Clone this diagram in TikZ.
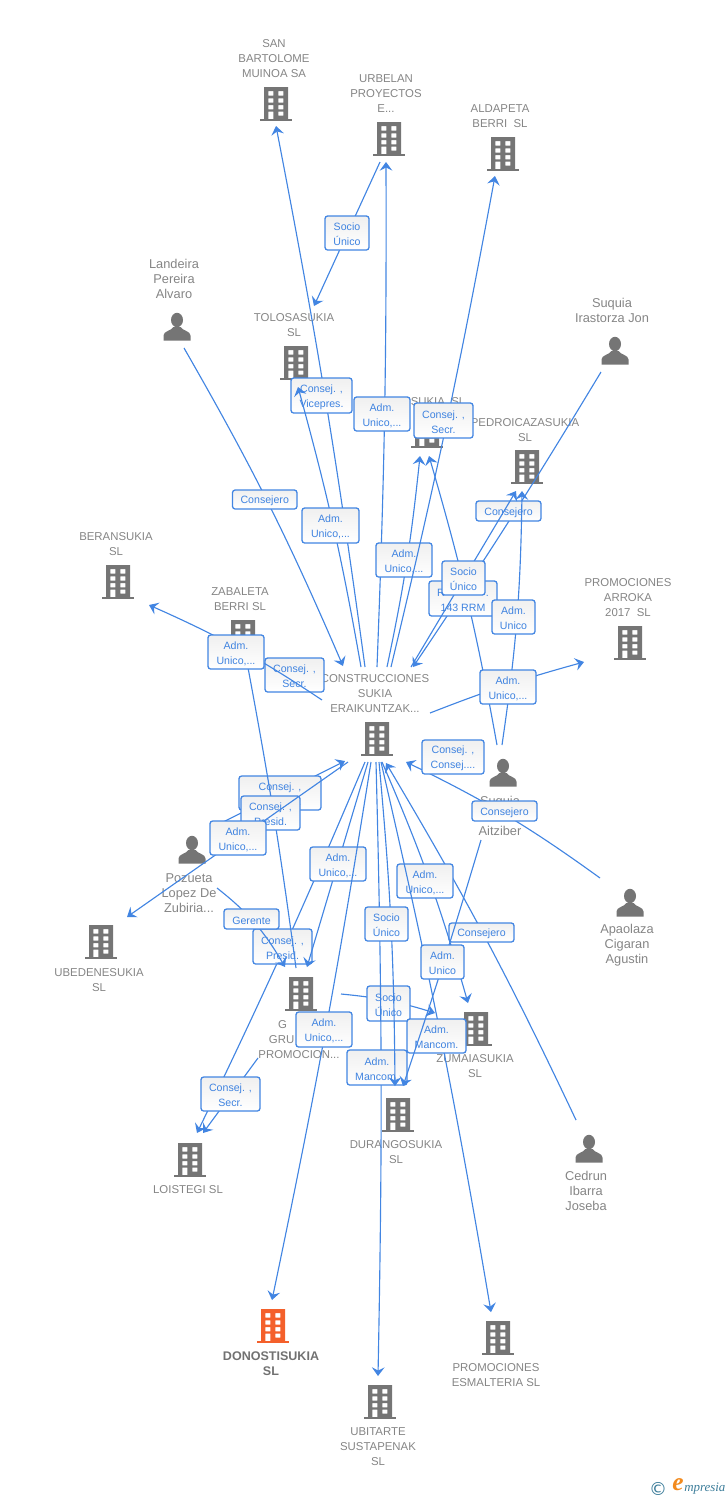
\documentclass[tikz,border=0pt]{standalone}
\usepackage{fontspec}
\setmainfont{Liberation Sans}
\newfontfamily\logoserif{Liberation Serif}
\newfontfamily\logosym{DejaVu Sans}
\usetikzlibrary{arrows.meta,bending}
\definecolor{linkblue}{HTML}{4285E2}
\definecolor{tagtext}{HTML}{3F83E0}
\definecolor{labelgray}{HTML}{858585}
\definecolor{icongray}{HTML}{757575}
\definecolor{iconorange}{HTML}{F4602B}
\definecolor{logoteal}{HTML}{3B7C99}
\definecolor{logoorange}{HTML}{F28A1E}
\tikzset{
  x=0.75pt,y=-0.75pt,
  link/.style={draw=linkblue,line width=0.85pt,-{Stealth[length=6.5pt,width=9.5pt,inset=2.4pt]}},
  tag/.style={draw=linkblue,line width=0.95pt,rounded corners=2pt,top color=black!6,bottom color=white,
    text=tagtext,align=center,inner sep=0pt,font=\fontsize{7.95pt}{11.25pt}\selectfont},
  company/.style={text=labelgray,align=center,inner sep=0pt,yshift=-0.75pt,font=\fontsize{8.55pt}{11.25pt}\selectfont},
  companybold/.style={text=labelgray!85!black,align=center,inner sep=0pt,yshift=-0.75pt,font=\fontsize{9.4pt}{11.25pt}\selectfont\bfseries},
  human/.style={text=labelgray,align=center,inner sep=0pt,font=\fontsize{9.6pt}{11.25pt}\selectfont},
  pics/bld/.style={code={
    \fill[#1,even odd rule] (-12,-17) rectangle (12,15)
      (-7.7,-13) rectangle (-2.7,-8.5) (2.3,-13) rectangle (7.3,-8.5)
      (-7.7,-5.7) rectangle (-2.7,-1.5) (2.3,-5.7) rectangle (7.3,-1.5)
      (-7.7,1) rectangle (-2.7,5.3) (2.3,1) rectangle (7.3,5.3)
      (-7.7,7.5) rectangle (-2.7,15) (2.3,7.5) rectangle (7.3,11.5);
    \fill[#1] (-16,15) rectangle (16,17.2);
  }},
  pics/bld/.default=icongray,
  pics/man/.style={code={
    \fill[icongray] (0,-7) ellipse [x radius=6,y radius=7.2];
    \fill[icongray] (-13.5,13.5) -- (-13.5,8.5) .. controls (-13.5,4) and (-6,4) .. (-3.5,0)
      -- (3.5,0) .. controls (6,4) and (13.5,4) .. (13.5,8.5) -- (13.5,13.5) -- cycle;
  }},
}
\newcommand{\tagbox}[6]{%
  \pgfmathsetmacro{\tagw}{(#3-#2)*0.75}\pgfmathsetmacro{\tagh}{(#5-#4)*0.75}%
  \node[tag,minimum width=\tagw pt,minimum height=\tagh pt] (#1) at ({(#2+#3)/2},{(#4+#5)/2}) {\rule{0pt}{8pt}#6};}
\begin{document}
\begin{tikzpicture}
\useasboundingbox (0,0) rectangle (728,1500);
% ---- icons
\pic (isanb) at (276,104) {bld};
\pic (iurb) at (389,139) {bld};
\pic (iald) at (503,154) {bld};
\pic (itol) at (296,363) {bld};
\pic (isuk) at (427,431) {bld};
\pic (iped) at (527,467) {bld};
\pic (iarr) at (630,643) {bld};
\pic (iber) at (118,582) {bld};
\pic (izab) at (243,637) {bld};
\pic (icon) at (377,739) {bld};
\pic (iube) at (101,942) {bld};
\pic (igru) at (301,994) {bld};
\pic (iloi) at (190,1160) {bld};
\pic (idur) at (398,1115) {bld};
\pic (izum) at (476,1029) {bld};
\pic (idon) at (273,1326) {bld=iconorange};
\pic (iesm) at (498,1338) {bld};
\pic (iubi) at (380,1402) {bld};
\pic (ilan) at (177,327) {man};
\pic (ijon) at (615,351) {man};
\pic (iait) at (503,773) {man};
\pic (ipoz) at (192,850) {man};
\pic (iapa) at (630,903) {man};
\pic (iced) at (589,1149) {man};
% ---- texts
\node[company] (sanb) at (274,58) {SAN\\BARTOLOME\\MUINOA SA};
\node[company] (urb) at (386,93) {URBELAN\\PROYECTOS\\E...};
\node[company] (ald) at (500,115.5) {ALDAPETA\\BERRI\ \ SL};
\node[company] (tol) at (294,324.5) {TOLOSASUKIA\\SL};
\node[company] (suk) at (438,401) {SUKIA\ \ SL};
\node[company] (ped) at (525,429.5) {PEDROICAZASUKIA\\SL};
\node[company] (arr) at (628,597) {PROMOCIONES\\ARROKA\\2017\ \ SL};
\node[company] (ber) at (116,543.5) {BERANSUKIA\\SL};
\node[company] (zab) at (240,598.5) {ZABALETA\\BERRI SL};
\node[company] (con) at (375,693) {CONSTRUCCIONES\\SUKIA\\ERAIKUNTZAK...};
\node[company] (ube) at (99,979.5) {UBEDENESUKIA\\SL};
\node[company] (gru) at (299,1039) {G\phantom{RUPO}\\GRU\phantom{PO XX}\\PROMOCION...};
\node[company] (loi) at (188,1189) {LOISTEGI SL};
\node[company] (dur) at (396,1151.5) {DURANGOSUKIA\\SL};
\node[company] (zum) at (475,1065.5) {ZUMAIASUKIA\\SL};
\node[companybold] (don) at (271,1362.5) {DONOSTISUKIA\\SL};
\node[company] (esm) at (496,1374.5) {PROMOCIONES\\ESMALTERIA SL};
\node[company] (ubi) at (378,1446) {UBITARTE\\SUSTAPENAK\\SL};
\node[human] (lan) at (174,279) {Landeira\\Pereira\\Alvaro};
\node[human] (jon) at (612,310.5) {Suquia\\Irastorza Jon};
\node[human] (ait) at (500,816) {Suquia\\[11.25pt]Aitziber};
\node[human] (poz) at (189,893) {Pozueta\\Lopez De\\Zubiria...};
\node[human] (apa) at (627,945) {Apaolaza\\Cigaran\\Agustin};
\node[human] (ced) at (586,1191) {Cedrun\\Ibarra\\Joseba};
% ---- connector ends
\coordinate (cSanb) at (365,667);   \coordinate (eSanb) at (276,126);
\coordinate (cTol) at (361,667);    \coordinate (eTol) at (298,387);
\coordinate (cUrb) at (377,667);    \coordinate (eUrb) at (386,162);
\coordinate (cSuk) at (387,667);    \coordinate (eSuk) at (420,456);
\coordinate (cAld) at (391,667);    \coordinate (eAld) at (495,176);
\coordinate (sJon) at (601,372);    \coordinate (eJon) at (413,667);
\coordinate (sAitA) at (497,745);   \coordinate (eSukB) at (429,456);
\coordinate (cPed) at (411,667);    \coordinate (ePedA) at (516,491);
\coordinate (sAitB) at (502,745);   \coordinate (ePedB) at (522,491);
\coordinate (cArr) at (430,713);    \coordinate (eArr) at (584,662);
\coordinate (cBer) at (322,700);    \coordinate (eBer) at (149,605);
\coordinate (sLan) at (184,348);    \coordinate (eLan) at (343,666);
\coordinate (sUrb) at (380,162);    \coordinate (eUrbTol) at (314,306);
\coordinate (cLoi) at (365,762);    \coordinate (eLoiA) at (197,1133);
\coordinate (sPozA) at (217,888);   \coordinate (eGruA) at (285,967);
\coordinate (sPozB) at (215,826);   \coordinate (ePoz) at (345,761);
\coordinate (sGruZ) at (296,968);   \coordinate (eZab) at (246,657);
\coordinate (cUbe) at (348,762);    \coordinate (eUbe) at (127,917);
\coordinate (cGru) at (368,762);    \coordinate (eGruB) at (307,967);
\coordinate (sGruL) at (258,1058);  \coordinate (eLoiB) at (203,1133);
\coordinate (cDon) at (371,762);    \coordinate (eDon) at (272,1300);
\coordinate (sGruU) at (341,994);   \coordinate (eZumA) at (435,1013);
\coordinate (sCed) at (576,1120);   \coordinate (eCed) at (386,763);
\coordinate (cZum) at (382,762);    \coordinate (eZumB) at (468,1003);
\coordinate (cEsm) at (381,762);    \coordinate (eEsm) at (491,1312);
\coordinate (cUbi) at (376,762);    \coordinate (eUbi) at (378,1376);
\coordinate (cDur) at (379,762);    \coordinate (eDurA) at (395,1086);
\coordinate (sAitC) at (481,840);   \coordinate (eDurB) at (403,1086);
\coordinate (sApa) at (600,878);    \coordinate (eApa) at (406,762);
% ---- connectors and their labels, in paint order
\draw[link] (cSanb) to[bend right=1.6] (eSanb);
\tagbox{tSanb}{291}{352}{378}{413}{Consej. ,\\Vicepres.}
\draw[link] (cTol) to[bend right=2.7] (eTol);
\tagbox{tTol}{302}{359}{508}{543}{Adm.\\Unico,...}
\draw[link] (cUrb) to[bend right=1.2] (eUrb);
\tagbox{tUrb}{354}{410}{397}{431}{Adm.\\Unico,...}
\draw[link] (cSuk) to[bend right=3] (eSuk);
\tagbox{tSuk}{376}{432}{543}{577}{Adm.\\Unico,...}
\draw[link] (cAld) to[bend right=1.5] (eAld);
\tagbox{tAld}{414}{473}{403}{438}{Consej. ,\\Secr.}
\draw[link] (sJon) to[bend left=1.4] (eJon);
\tagbox{tJon}{476}{541}{501}{521}{Consejero}
\draw[link] (sAitA) to[bend right=3] (eSukB);
\tagbox{tAitA}{429}{497}{581}{616}{R\phantom{epr. Rep}.\\143 RRM}
\draw[link] (cPed) -- (ePedA);
\tagbox{tPed}{442}{485}{561}{595}{Socio\\Único}
\draw[link] (sAitB) to[bend right=3.8] (ePedB);
\tagbox{tAitB}{492}{535}{600}{634}{Adm.\\Unico}
\draw[link] (cArr) to[bend left=3] (eArr);
\tagbox{tArr}{480}{536}{670}{704}{Adm.\\Unico,...}
\tagbox{tZabS}{265}{324}{658}{692}{Consej. ,\\Secr.}
\draw[link] (cBer) to[bend right=4.9] (eBer);
\draw[link] (sLan) to[bend left=3.3] (eLan);
\tagbox{tLan}{232.5}{297}{490}{509}{Consejero}
\draw[link] (sUrb) -- (eUrbTol);
\tagbox{tUT}{325}{369}{216}{250}{Socio\\Único}
\draw[link] (cLoi) to[bend left=1.4] (eLoiA);
\tagbox{tLoi}{253}{312}{929}{964}{Consej. ,\\Presid.}
\draw[link] (sPozA) to[bend left=11] (eGruA);
\tagbox{tPozA}{224}{279}{909}{929}{Gerente}
\draw[link] (sPozB) -- (ePoz);
\tagbox{tPozB}{239}{321}{776}{810}{Consej. ,\\\phantom{Vicese}cr.}
\draw[link] (sGruZ) to[bend right=1.5] (eZab);
\tagbox{tZab}{241}{300}{796}{830}{Consej. ,\\Presid.}
\tagbox{tBer}{208}{264}{635}{669}{Adm.\\Unico,...}
\draw[link] (cUbe) -- (eUbe);
\tagbox{tUbe}{210}{266}{821}{855}{Adm.\\Unico,...}
\draw[link] (cGru) -- (eGruB);
\tagbox{tGru}{310}{366}{847}{881}{Adm.\\Unico,...}
\draw[link] (sGruL) -- (eLoiB);
\tagbox{tGruL}{201}{260}{1077}{1111}{Consej. ,\\Secr.}
\draw[link] (cDon) to[bend left=1.4] (eDon);
\tagbox{tDon}{296}{352}{1012}{1047}{Adm.\\Unico,...}
\draw[link] (sGruU) to[bend left=6] (eZumA);
\tagbox{tGruU}{367}{410}{986}{1021}{Socio\\Único}
\draw[link] (sCed) to[bend right=2.7] (eCed);
\tagbox{tCed}{449}{514}{923}{942}{Consejero}
\draw[link] (cZum) to[bend left=3.8] (eZumB);
\tagbox{tZum}{397}{453}{864}{898}{Adm.\\Unico,...}
\draw[link] (cEsm) to[bend left=1.7] (eEsm);
\tagbox{tEsm}{407}{466}{1019}{1053}{Adm.\\Mancom.}
\draw[link] (cUbi) to[bend left=1.3] (eUbi);
\tagbox{tUbi}{347}{407}{1050}{1085}{Adm.\\Mancom.}
\draw[link] (cDur) to[bend left=2.4] (eDurA);
\tagbox{tDur}{365}{408}{907}{941}{Socio\\Único}
\draw[link] (sAitC) to[bend left=1] (eDurB);
\tagbox{tAitC}{421}{464}{945}{979}{Adm.\\Unico}
\draw[link] (sApa) to[bend right=5] (eApa);
\tagbox{tApa}{472}{537}{801}{821}{Consejero}
\tagbox{tAitD}{422}{484}{740}{774}{Consej. ,\\Consej....}
% ---- logo
\node[text=logoteal,inner sep=0pt,font=\logosym\fontsize{13.5pt}{14pt}\selectfont] (logoc) at (658,1489) {©};
\node[text=logoorange,inner sep=0pt,font=\logoserif\itshape\bfseries\fontsize{19pt}{19pt}\selectfont] (logoe) at (678,1485) {e};
\node[text=logoteal,anchor=west,inner sep=0pt,font=\logoserif\itshape\fontsize{9.7pt}{10pt}\selectfont] (logot) at (684,1489) {mpresia};
\end{tikzpicture}
\end{document}
